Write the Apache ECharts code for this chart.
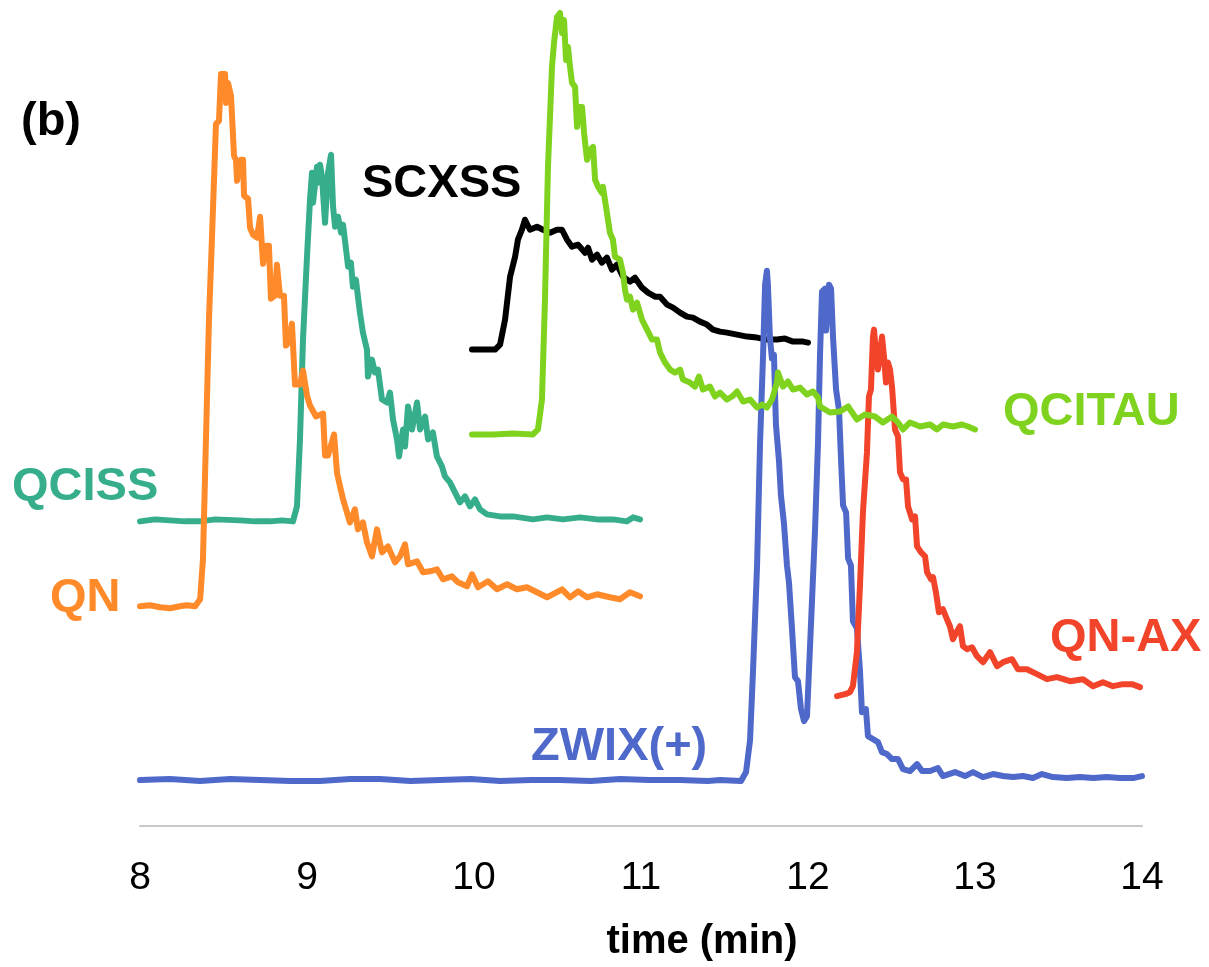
<!DOCTYPE html>
<html><head><meta charset="utf-8">
<script src="https://cdn.jsdelivr.net/npm/echarts@6/dist/echarts.min.js"></script>
<style>html,body{margin:0;padding:0;background:#fff}#c{width:1209px;height:967px}</style>
</head><body><div id="c"></div>
<script>
// x ticks (minutes)
const xTicks = [8, 9, 10, 11, 12, 13, 14];

// [time (min), signal (a.u.)]
const QN = [[8.00,220],[8.06,221],[8.12,219],[8.18,218],[8.24,220],[8.28,221],[8.33,220],[8.36,227],[8.377,267],[8.389,347],[8.401,427],[8.413,507],[8.431,589],[8.455,703],[8.473,706],[8.485,753],[8.509,753],[8.515,724],[8.527,744],[8.545,731],[8.563,671],[8.575,667],[8.581,646],[8.605,667],[8.617,667],[8.623,631],[8.647,628],[8.659,599],[8.677,592],[8.701,589],[8.719,610],[8.737,563],[8.754,581],[8.772,581],[8.784,528],[8.808,531],[8.820,562],[8.838,531],[8.862,531],[8.874,481],[8.892,485],[8.910,503],[8.928,442],[8.958,442],[8.976,456],[9.000,431],[9.018,421],[9.054,410],[9.096,413],[9.108,371],[9.126,371],[9.162,392],[9.180,353],[9.216,327],[9.257,304],[9.287,317],[9.305,297],[9.335,304],[9.359,284],[9.389,270],[9.419,297],[9.449,274],[9.485,280],[9.527,264],[9.557,270],[9.587,282],[9.605,262],[9.659,265],[9.695,254],[9.737,255],[9.778,257],[9.814,247],[9.868,250],[9.904,244],[9.958,240],[9.988,252],[10.024,239],[10.084,245],[10.138,237],[10.198,242],[10.257,237],[10.317,239],[10.377,234],[10.437,229],[10.527,237],[10.575,229],[10.623,235],[10.677,229],[10.737,232],[10.814,229],[10.874,227],[10.934,234],[10.994,230]];

const QCISS = [[8.000,305],[8.090,307],[8.180,306],[8.270,305],[8.359,305],[8.450,307],[8.599,306],[8.690,305],[8.778,305],[8.850,306],[8.916,305],[8.940,320],[8.958,387],[8.976,487],[9.000,570],[9.018,627],[9.030,654],[9.036,624],[9.060,660],[9.066,644],[9.078,662],[9.090,650],[9.096,634],[9.108,604],[9.126,654],[9.144,672],[9.156,620],[9.168,600],[9.186,610],[9.204,594],[9.216,602],[9.234,577],[9.246,560],[9.263,564],[9.275,540],[9.293,547],[9.305,530],[9.317,514],[9.335,494],[9.359,477],[9.365,450],[9.389,467],[9.407,454],[9.425,457],[9.449,427],[9.479,424],[9.497,434],[9.515,407],[9.539,387],[9.551,370],[9.575,397],[9.587,380],[9.605,420],[9.629,397],[9.659,424],[9.677,397],[9.707,410],[9.725,387],[9.754,394],[9.778,370],[9.808,360],[9.826,350],[9.856,344],[9.886,334],[9.916,324],[9.946,330],[9.976,320],[10.006,327],[10.036,317],[10.078,312],[10.156,310],[10.234,310],[10.353,307],[10.437,309],[10.533,307],[10.635,309],[10.737,307],[10.832,307],[10.916,305],[10.952,309],[10.994,307]];

const SCXSS = [[9.988,477],[10.054,477],[10.126,477],[10.156,482],[10.186,507],[10.216,550],[10.246,570],[10.263,587],[10.287,597],[10.305,607],[10.335,597],[10.377,600],[10.413,597],[10.455,594],[10.497,597],[10.527,597],[10.557,587],[10.587,580],[10.623,582],[10.665,574],[10.683,579],[10.707,567],[10.737,572],[10.766,564],[10.796,569],[10.826,557],[10.856,562],[10.892,550],[10.934,545],[10.964,549],[11.006,539],[11.042,534],[11.084,530],[11.114,530],[11.156,522],[11.192,519],[11.234,514],[11.275,510],[11.311,509],[11.353,505],[11.395,502],[11.431,497],[11.473,495],[11.515,494],[11.575,492],[11.635,490],[11.695,489],[11.754,487],[11.814,487],[11.862,488],[11.910,485],[11.970,485],[12.000,484]];

const QCITAU = [[9.988,392],[10.114,392],[10.234,393],[10.353,392],[10.383,397],[10.407,427],[10.425,527],[10.443,660],[10.467,760],[10.479,784],[10.497,810],[10.515,814],[10.527,794],[10.539,807],[10.551,767],[10.563,780],[10.575,760],[10.587,744],[10.605,740],[10.617,700],[10.629,720],[10.647,720],[10.659,694],[10.677,667],[10.695,677],[10.713,680],[10.725,647],[10.743,640],[10.766,634],[10.772,640],[10.796,614],[10.814,594],[10.832,587],[10.844,570],[10.874,567],[10.892,554],[10.904,537],[10.916,527],[10.934,530],[10.952,517],[10.976,524],[11.006,507],[11.036,497],[11.066,487],[11.096,487],[11.114,474],[11.144,464],[11.174,457],[11.204,454],[11.234,457],[11.251,447],[11.293,444],[11.323,440],[11.347,450],[11.371,437],[11.413,440],[11.443,430],[11.473,434],[11.515,427],[11.545,430],[11.575,435],[11.611,425],[11.653,427],[11.695,419],[11.725,422],[11.754,419],[11.784,427],[11.814,444],[11.820,454],[11.850,440],[11.880,445],[11.910,437],[11.952,439],[11.994,432],[12.030,435],[12.060,429],[12.072,420],[12.132,414],[12.192,415],[12.240,420],[12.293,407],[12.341,412],[12.401,410],[12.449,404],[12.503,410],[12.539,404],[12.569,397],[12.611,404],[12.671,400],[12.731,402],[12.772,397],[12.808,402],[12.868,400],[12.922,402],[12.958,400],[13.000,397]];

const ZWIX = [[8.000,46],[8.180,47],[8.359,45],[8.540,47],[8.719,46],[8.900,45],[9.078,45],[9.260,47],[9.437,47],[9.620,45],[9.796,46],[9.980,47],[10.156,45],[10.340,46],[10.515,46],[10.700,45],[10.874,47],[11.050,46],[11.234,46],[11.400,45],[11.473,46],[11.599,45],[11.629,54],[11.653,86],[11.671,156],[11.695,261],[11.713,384],[11.731,472],[11.743,542],[11.754,556],[11.760,542],[11.772,489],[11.784,468],[11.796,472],[11.808,402],[11.826,366],[11.838,331],[11.856,303],[11.874,261],[11.886,244],[11.904,198],[11.922,149],[11.940,145],[11.958,117],[11.976,105],[11.994,110],[12.006,156],[12.024,226],[12.042,296],[12.060,384],[12.072,472],[12.084,535],[12.102,538],[12.108,496],[12.126,542],[12.138,538],[12.150,489],[12.168,437],[12.186,416],[12.198,366],[12.210,321],[12.228,314],[12.240,268],[12.257,261],[12.269,205],[12.293,198],[12.311,156],[12.323,114],[12.347,117],[12.359,90],[12.389,87],[12.419,84],[12.443,74],[12.473,72],[12.503,67],[12.539,67],[12.569,57],[12.611,55],[12.653,62],[12.683,55],[12.731,55],[12.778,58],[12.808,50],[12.880,54],[12.940,50],[12.988,54],[13.048,49],[13.108,52],[13.168,50],[13.228,49],[13.287,50],[13.347,48],[13.401,52],[13.467,49],[13.551,48],[13.629,49],[13.707,48],[13.790,49],[13.868,48],[13.946,48],[14.000,50]];

const QNAX = [[12.174,130],[12.222,132],[12.251,134],[12.269,140],[12.293,174],[12.311,240],[12.329,314],[12.353,374],[12.365,430],[12.377,437],[12.389,490],[12.395,497],[12.407,474],[12.419,457],[12.443,490],[12.455,470],[12.467,444],[12.479,464],[12.491,457],[12.503,440],[12.521,397],[12.539,390],[12.551,354],[12.569,347],[12.587,347],[12.599,320],[12.623,307],[12.641,310],[12.653,280],[12.677,274],[12.701,270],[12.713,254],[12.737,247],[12.749,249],[12.766,234],[12.784,214],[12.808,217],[12.832,207],[12.850,200],[12.868,187],[12.892,195],[12.910,200],[12.928,180],[12.952,177],[12.982,179],[13.012,170],[13.048,164],[13.090,174],[13.132,160],[13.168,164],[13.222,167],[13.257,157],[13.311,157],[13.371,152],[13.431,147],[13.491,149],[13.569,145],[13.647,147],[13.707,140],[13.766,144],[13.826,140],[13.886,142],[13.940,142],[13.988,139]];

const COLORS = {QN:'#FF8A2A', QCISS:'#36AE8C', SCXSS:'#000000', QCITAU:'#7FD31F', ZWIX:'#4F69CB', QNAX:'#F1442A'};

const chart = echarts.init(document.getElementById('c'), null, {renderer:'canvas'});
function mk(name, data, color) {
  return {name:name, type:'line', data:data, symbol:'none', showSymbol:false, smooth:false,
    lineStyle:{color:color, width:6, join:'round', cap:'round'}, itemStyle:{color:color}};
}
function label(text, x, y, color) {
  return {type:'text', x:x, y:y, z:100, style:{text:text, fill:color, font:'bold 47px "Liberation Sans", Arial, sans-serif', align:'left', verticalAlign:'middle', textAlign:'left', textVerticalAlign:'middle'}};
}
const option = {
  animation:false,
  backgroundColor:'#ffffff',
  grid:{left:140, right:67, top:10, bottom:140},
  xAxis:{type:'value', min:xTicks[0], max:xTicks[xTicks.length-1], interval:1,
    axisLine:{show:true, lineStyle:{color:'#C8C8C8', width:2}}, axisTick:{show:false}, splitLine:{show:false},
    axisLabel:{fontSize:39, color:'#000', fontFamily:'"Liberation Sans", Arial, sans-serif', margin:33},
    name:'time (min)', nameLocation:'middle', nameGap:96,
    nameTextStyle:{fontSize:40, fontWeight:'bold', fontFamily:'"Liberation Sans", Arial, sans-serif', color:'#000', padding:[0,0,0,122]}},
  yAxis:{type:'value', min:0, max:817, show:false},
  series:[
    mk('QCISS', QCISS, COLORS.QCISS),
    mk('QN', QN, COLORS.QN),
    mk('SCXSS', SCXSS, COLORS.SCXSS),
    mk('ZWIX(+)', ZWIX, COLORS.ZWIX),
    mk('QN-AX', QNAX, COLORS.QNAX),
    mk('QCITAU', QCITAU, COLORS.QCITAU)
  ],
  graphic:[
    label('(b)', 21, 122, '#000000'),
    label('SCXSS', 362, 184, COLORS.SCXSS),
    label('QCITAU', 1003, 412, COLORS.QCITAU),
    label('QCISS', 12, 487, COLORS.QCISS),
    label('QN', 50, 598, COLORS.QN),
    label('QN-AX', 1050, 638, COLORS.QNAX),
    label('ZWIX(+)', 531, 747, COLORS.ZWIX)
  ]
};
chart.setOption(option);
</script>
</body></html>
